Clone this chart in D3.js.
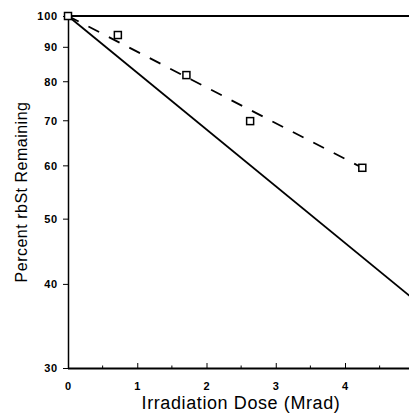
<!DOCTYPE html>
<html>
<head>
<meta charset="utf-8">
<script src="https://cdn.jsdelivr.net/npm/d3@7"></script>
<style>
  body { margin: 0; background: #fff; }
  svg { display: block; }
  .tick text { font-family: Arial, "Liberation Sans", sans-serif; font-weight: bold; font-size: 11px; letter-spacing: 0.8px; }
  .title { font-family: Arial, "Liberation Sans", sans-serif; }
</style>
</head>
<body>
<div id="chart"></div>
<script>
// measured points (dose in Mrad, percent remaining)
const doses = [0, 0.72, 1.71, 2.63, 4.25];
const remaining = [100, 93.7, 81.7, 69.8, 59.5];
// dashed fit through the measurements
const fitDose = [0, 4.25];
const fitValue = [100, 59.5];
// solid reference curve
const refDose = [0, 5];
const refValue = [100, 37.9];
const xTicks = [0, 1, 2, 3, 4];
const yTicks = [30, 40, 50, 60, 70, 80, 90, 100];

const width = 409, height = 413;
const margin = {top: 16, left: 68, bottom: 45};

const svg = d3.select("#chart")
    .append("svg")
    .attr("width", width)
    .attr("height", height);

const x = d3.scaleLinear()
    .domain([0, 5])
    .range([margin.left, margin.left + 5 * 69.25]);

const y = d3.scaleLog()
    .domain([30, 100])
    .range([height - margin.bottom, margin.top]);

// x axis, ticks pointing inward
const xAxis = svg.append("g")
    .attr("transform", `translate(0, ${y(30)})`)
    .call(d3.axisBottom(x).tickValues(xTicks).tickFormat(d3.format("d")).tickSize(-5).tickSizeOuter(0).tickPadding(14));
xAxis.select(".domain").attr("d", `M${margin.left},0.5H${width}`).attr("stroke-width", 1.8);

// minor x ticks
svg.append("g")
    .selectAll("line")
    .data([0.5, 1.5, 2.5, 3.5, 4.5])
    .enter()
    .append("line")
    .attr("x1", d => x(d)).attr("x2", d => x(d))
    .attr("y1", y(30)).attr("y2", y(30) - 2.5)
    .attr("stroke", "#000");

// y axis, ticks outward
const yAxis = svg.append("g")
    .attr("transform", `translate(${margin.left}, 0)`)
    .call(d3.axisLeft(y).tickValues(yTicks).tickFormat(d3.format("d")).tickSize(5).tickSizeOuter(0).tickPadding(5));
yAxis.select(".domain").attr("stroke-width", 1.5);
yAxis.selectAll(".tick text").attr("dy", "0.36em");

// top line at 100%
svg.append("line")
    .attr("x1", margin.left).attr("x2", width)
    .attr("y1", y(100)).attr("y2", y(100))
    .attr("stroke", "#000")
    .attr("stroke-width", 1.8);

const line = d3.line()
    .x(d => x(d[0]))
    .y(d => y(d[1]));

svg.append("path")
    .datum(refDose.map((d, i) => [d, refValue[i]]))
    .attr("d", line)
    .attr("fill", "none")
    .attr("stroke", "#000")
    .attr("stroke-width", 1.8);

svg.append("path")
    .datum(fitDose.map((d, i) => [d, fitValue[i]]))
    .attr("d", line)
    .attr("fill", "none")
    .attr("stroke", "#000")
    .attr("stroke-width", 1.8)
    .attr("stroke-dasharray", "12,11");

svg.selectAll(".pt")
    .data(doses.map((d, i) => [d, remaining[i]]))
    .enter()
    .append("rect")
    .attr("class", "pt")
    .attr("x", d => x(d[0]) - 3.5)
    .attr("y", d => y(d[1]) - 3.5)
    .attr("width", 7)
    .attr("height", 7)
    .attr("fill", "#fff")
    .attr("stroke", "#000")
    .attr("stroke-width", 1.5);

svg.append("text")
    .attr("class", "title")
    .attr("x", 241)
    .attr("y", 409)
    .attr("text-anchor", "middle")
    .style("font-size", "18px")
    .style("letter-spacing", "0.6px")
    .text("Irradiation Dose (Mrad)");

svg.append("text")
    .attr("class", "title")
    .attr("transform", "translate(27, 192) rotate(-90)")
    .attr("text-anchor", "middle")
    .style("font-size", "16px")
    .style("letter-spacing", "0.5px")
    .text("Percent rbSt Remaining");
</script>
</body>
</html>
